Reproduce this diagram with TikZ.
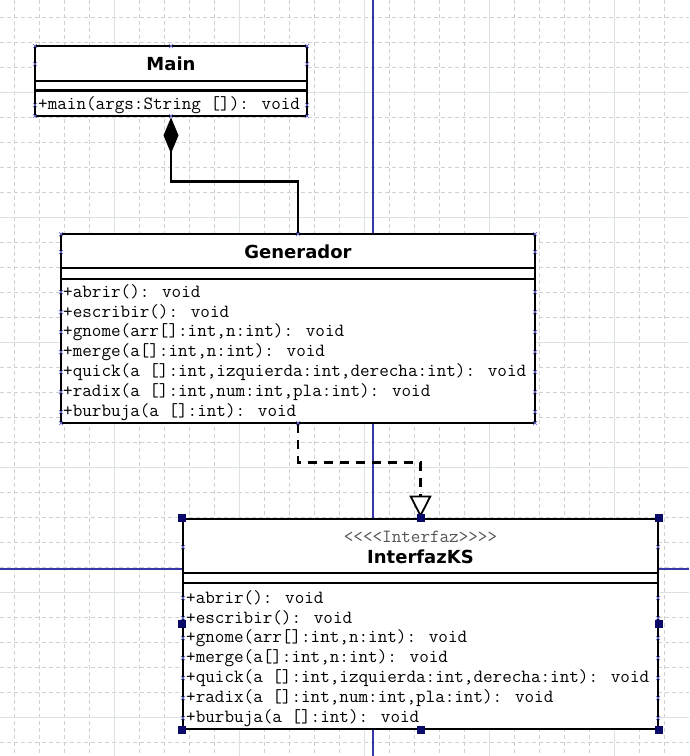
\documentclass[tikz,border=0pt]{standalone}
\usepackage{fontspec}
\usetikzlibrary{arrows.meta}
\newfontfamily\codefont{Latin Modern Mono}
\newfontfamily\headfont{DejaVu Sans}
\definecolor{gridsolid}{RGB}{218,226,226}
\definecolor{griddash}{RGB}{208,208,208}
\definecolor{guideblue}{RGB}{55,55,170}
\definecolor{handleblue}{RGB}{10,10,105}
\definecolor{pinblue}{RGB}{110,110,215}
\definecolor{stereogray}{RGB}{85,85,85}
\tikzset{
  box/.style={draw, fill=white, line width=2.8pt, rectangle, inner sep=0pt},
  classname/.style={font=\headfont\bfseries\fontsize{18}{20}\selectfont, inner sep=0pt},
  meth/.style={font=\codefont\fontsize{18.6}{20}\selectfont, anchor=west, inner sep=0pt},
  handlebox/.style={fill=handleblue, minimum size=8pt, inner sep=0pt},
  pinx/.pic={\draw[pinblue, line width=0.7pt] (-2,-2) -- (2,2) (-2,2) -- (2,-2);}
}
\begin{document}
\begin{tikzpicture}[x=1pt,y=-1pt]
    \useasboundingbox (0,0) rectangle (689,756);
    \foreach \x in {14.5,39.5,...,689} \draw[griddash, line width=0.8pt, dash pattern=on 4pt off 3pt] (\x,0) -- (\x,756);
    \foreach \y in {17.5,42.5,...,756} \draw[griddash, line width=0.8pt, dash pattern=on 4pt off 3pt] (0,\y) -- (689,\y);
    \foreach \x in {114.5,239.5,...,689} \draw[gridsolid, line width=1pt] (\x,0) -- (\x,756);
    \foreach \y in {92.5,217.5,...,756} \draw[gridsolid, line width=1pt] (0,\y) -- (689,\y);
    \draw[guideblue, line width=1.1pt] (373,0) -- (373,756);
    \draw[guideblue, line width=1.1pt] (0,569) -- (689,569);
    % classes
    \node[box, minimum width=272pt, minimum height=70pt] (main) at (171,81) {};
    \node[classname] (mainname) at (171,64) {Main};
    \draw[line width=2.8pt] (main.west |- 0,81) -- (main.east |- 0,81) (main.west |- 0,90.7) -- (main.east |- 0,90.7);
    \node[meth] (mainm) at (38,105) {+main(args:String []): void};
    \node[box, minimum width=474pt, minimum height=189pt] (gen) at (298,328.5) {};
    \node[classname] (genname) at (298,252) {Generador};
    \draw[line width=2.8pt] (gen.west |- 0,268) -- (gen.east |- 0,268) (gen.west |- 0,279) -- (gen.east |- 0,279);
    \node[box, minimum width=475pt, minimum height=210pt] (ifz) at (420.5,624) {};
    \node[meth, anchor=center, text=stereogray] (ifzst) at (420.5,537) {<<<<Interfaz>>>>};
    \node[classname] (ifzname) at (420.5,557) {InterfazKS};
    \draw[line width=2.8pt] (ifz.west |- 0,573) -- (ifz.east |- 0,573) (ifz.west |- 0,583) -- (ifz.east |- 0,583);
    \foreach \m [count=\i] in {{+abrir(): void},{+escribir(): void},{+gnome(arr[]:int,n:int): void},{+merge(a[]:int,n:int): void},{+quick(a []:int,izquierda:int,derecha:int): void},{+radix(a []:int,num:int,pla:int): void},{+burbuja(a []:int): void}} {
        \node[meth] (gm\i) at (63,{292+20*(\i-1)}) {\m};
        \node[meth] (im\i) at (186,{598+20*(\i-1)}) {\m};
    }
    % relations
    \draw[line width=2.8pt, -{Diamond[length=36pt,width=15pt]}] (gen.north) -- ++(0,-51) -| (main.south);
    \draw[line width=2.8pt, dash pattern=on 9pt off 7pt, -{Triangle[open,length=22pt,width=22pt,line width=1.8pt,fill=white]}] (gen.south) -- ++(0,38) -| (ifz.north);
    % marks
    \foreach \y in {46,64,105,116} { \pic at (35,\y) {pinx}; \pic at (307,\y) {pinx}; }
    \pic at (171,46) {pinx};
    \pic at (171,116) {pinx};
    \foreach \y in {234,252,292,312,...,412,423} { \pic at (61,\y) {pinx}; \pic at (535,\y) {pinx}; }
    \pic at (298,234) {pinx};
    \pic at (298,423) {pinx};
    \foreach \y in {547,598,618,...,718} { \pic at (183,\y) {pinx}; \pic at (658,\y) {pinx}; }
    \foreach \a [count=\i] in {north west,north,north east,west,east,south west,south,south east} \node[handlebox] (h\i) at (ifz.\a) {};
\end{tikzpicture}
\end{document}
